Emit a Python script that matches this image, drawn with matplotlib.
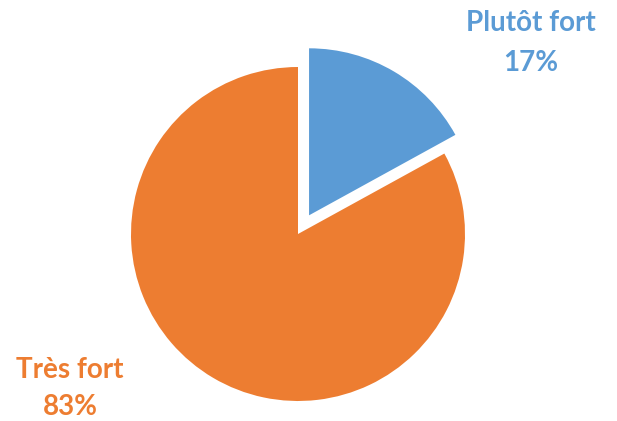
import matplotlib
matplotlib.use("Agg")
import matplotlib.pyplot as plt

categories = ["Plutôt fort", "Très fort"]
values = [17, 83]
colors = ["#5B9BD5", "#ED7D31"]

fig = plt.figure(figsize=(6.17, 4.21), dpi=100)
ax = fig.add_axes([0, 0, 1, 1])
R = 167.0
cx, cy = 298.0, 234.0

ax.pie(values, colors=colors, startangle=90, counterclock=False,
       explode=[0.13, 0.0], radius=1.0, center=(0, 0),
       wedgeprops=dict(linewidth=0))
ax.set_xlim(-cx / R, (617 - cx) / R)
ax.set_ylim(-(421 - cy) / R, cy / R)
ax.set_aspect("equal")
ax.axis("off")

font = dict(family=["Lato", "DejaVu Sans"], fontweight="bold", fontsize=20)
def px(x, y):
    return ((x - cx) / R, (cy - y) / R)

ax.text(*px(531, 23), categories[0], color=colors[0], ha="center", va="center", **font)
ax.text(*px(531, 63), f"{values[0]}%", color=colors[0], ha="center", va="center", **font)
ax.text(*px(70, 370), categories[1], color=colors[1], ha="center", va="center", **font)
ax.text(*px(70, 407), f"{values[1]}%", color=colors[1], ha="center", va="center", **font)

fig.savefig("out.png", dpi=100)
